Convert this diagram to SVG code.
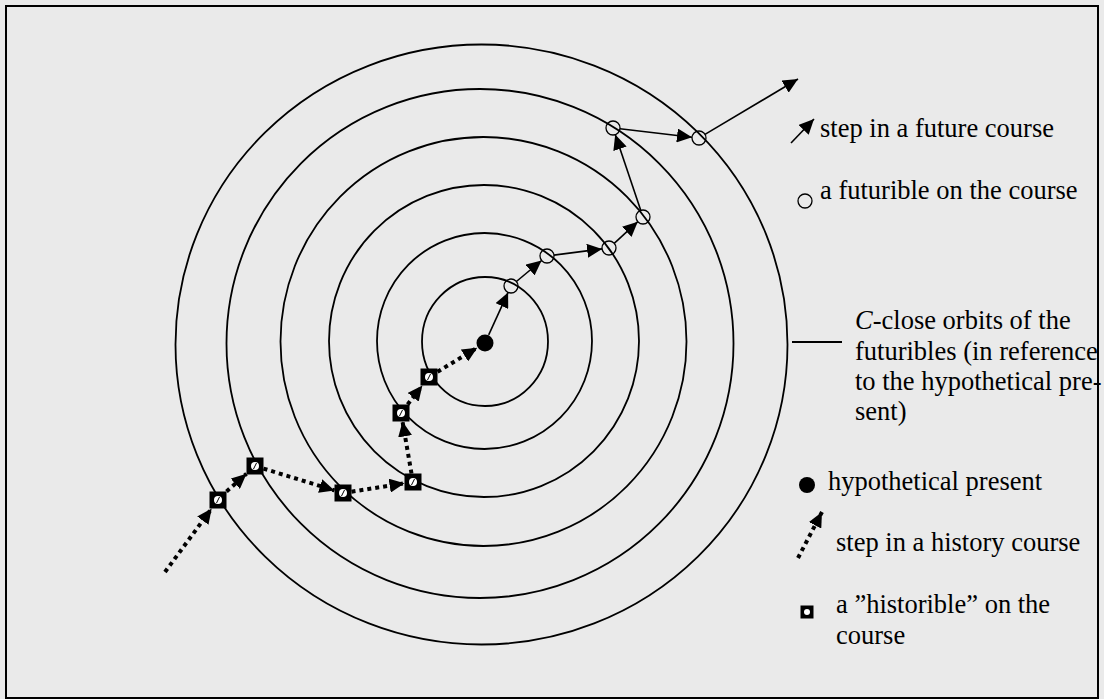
<svg xmlns="http://www.w3.org/2000/svg" xmlns:xlink="http://www.w3.org/1999/xlink" width="1104" height="699" viewBox="0 0 1104 699">
<style>
.orbit{fill:none;stroke:#000;stroke-width:1.8}
.fut{fill:none;stroke:#000;stroke-width:1.6;marker-end:url(#ah)}
.hist{fill:none;stroke:#000;stroke-width:4;stroke-dasharray:4 4;marker-end:url(#ah)}
.futnode{fill:none;stroke:#000;stroke-width:1.3}
.lbl{font-family:"Liberation Serif","Times New Roman",serif;font-size:26.5px;fill:#000}
</style>
<defs>
<marker id="ah" markerUnits="userSpaceOnUse" markerWidth="16" markerHeight="14" viewBox="0 0 16 14" refX="15" refY="7" orient="auto">
<path d="M0,0 L15,7 L0,14 Z" fill="#000"/>
</marker>
<g id="hsq">
<rect x="-8.5" y="-8.5" width="17" height="17" fill="#000"/>
<circle r="4" fill="#fff"/>
<line x1="1.5" y1="-3" x2="-1.5" y2="3" stroke="#000" stroke-width="1"/>
</g>
</defs>
<rect x="0" y="0" width="1104" height="699" fill="#eaeaea"/>
<rect x="6" y="6" width="1092" height="692" fill="none" stroke="#000" stroke-width="2"/>

<g id="orbits">
<ellipse class="orbit" cx="485" cy="341.5" rx="63" ry="64.5"/>
<ellipse class="orbit" cx="484.5" cy="341" rx="107.5" ry="108"/>
<ellipse class="orbit" cx="484" cy="341" rx="155" ry="156"/>
<ellipse class="orbit" cx="483.5" cy="341.5" rx="203" ry="204.5"/>
<ellipse class="orbit" cx="480" cy="343.5" rx="253.5" ry="254.5"/>
<ellipse class="orbit" cx="481.5" cy="344.5" rx="306" ry="300"/>
</g>

<g id="connectors">
<line class="fut" x1="488.7" y1="334.8" x2="508.1" y2="292.4"/>
<line class="fut" x1="516.4" y1="281.5" x2="541.6" y2="260.5"/>
<line class="fut" x1="553.9" y1="255.1" x2="602.1" y2="248.9"/>
<line class="fut" x1="614.2" y1="243.3" x2="637.8" y2="221.7"/>
<line class="fut" x1="640.8" y1="210.4" x2="615.2" y2="134.6"/>
<line class="fut" x1="620" y1="128.8" x2="692" y2="137.2"/>
<line class="fut" x1="705" y1="134.4" x2="798" y2="79"/>
<line class="hist" x1="165" y1="572" x2="211.7" y2="508.5"/>
<line class="hist" x1="226.5" y1="491.5" x2="246.5" y2="473.8"/>
<line class="hist" x1="263.5" y1="468.6" x2="334.5" y2="490.4"/>
<line class="hist" x1="351.5" y1="491.7" x2="404.5" y2="483.3"/>
<line class="hist" x1="411.5" y1="473.5" x2="402.5" y2="421.5"/>
<line class="hist" x1="407.6" y1="404.5" x2="422.4" y2="385.5"/>
<line class="hist" x1="437.5" y1="371.8" x2="477.3" y2="347.7"/>
<line x1="792" y1="342" x2="842" y2="342" stroke="#000" stroke-width="1.8"/>
</g>

<g id="present"><circle cx="485" cy="343" r="8.5" fill="#000"/></g>
<g id="futurible-1"><circle class="futnode" cx="511" cy="286" r="7"/></g>
<g id="futurible-2"><circle class="futnode" cx="547" cy="256" r="7"/></g>
<g id="futurible-3"><circle class="futnode" cx="609" cy="248" r="7"/></g>
<g id="futurible-4"><circle class="futnode" cx="643" cy="217" r="7"/></g>
<g id="futurible-5"><circle class="futnode" cx="613" cy="128" r="7"/></g>
<g id="futurible-6"><circle class="futnode" cx="699" cy="138" r="7"/></g>
<g id="historible-1"><use xlink:href="#hsq" href="#hsq" x="218" y="500"/></g>
<g id="historible-2"><use xlink:href="#hsq" href="#hsq" x="255" y="466"/></g>
<g id="historible-3"><use xlink:href="#hsq" href="#hsq" x="343" y="493"/></g>
<g id="historible-4"><use xlink:href="#hsq" href="#hsq" x="413" y="482"/></g>
<g id="historible-5"><use xlink:href="#hsq" href="#hsq" x="401" y="413"/></g>
<g id="historible-6"><use xlink:href="#hsq" href="#hsq" x="429" y="377"/></g>

<g id="legend">
<line class="fut" x1="791" y1="143" x2="814" y2="119"/>
<text class="lbl" x="820" y="137">step in a future course</text>
<circle class="futnode" cx="805" cy="201" r="7"/>
<text class="lbl" x="820" y="199">a futurible on the course</text>
<text class="lbl" x="855" y="329"><tspan font-style="italic">C</tspan>-close orbits of the</text>
<text class="lbl" x="855" y="360">futuribles (in reference</text>
<text class="lbl" x="855" y="390">to the hypothetical pre-</text>
<text class="lbl" x="855" y="420">sent)</text>
<circle cx="807" cy="485" r="8" fill="#000"/>
<text class="lbl" x="828" y="490">hypothetical present</text>
<line class="hist" x1="798" y1="558" x2="822" y2="512"/>
<text class="lbl" x="836" y="551">step in a history course</text>
<rect x="800.5" y="605.5" width="13" height="13" fill="#000"/>
<circle cx="807" cy="612" r="3" fill="#fff"/>
<text class="lbl" x="836" y="613">a ”historible” on the</text>
<text class="lbl" x="836" y="644">course</text>
</g>
</svg>
